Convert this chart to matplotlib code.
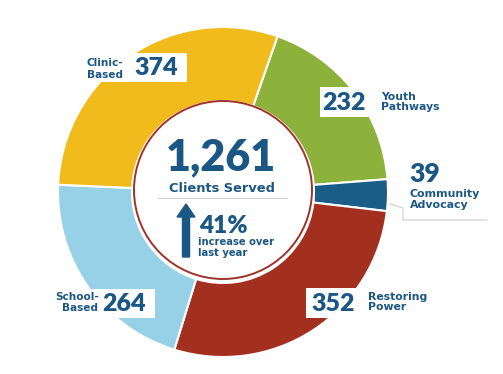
import matplotlib.pyplot as plt
from matplotlib.patches import Circle, Rectangle, FancyArrow

# clients by program, clockwise from the top
programs = ['Youth Pathways', 'Community Advocacy', 'Restoring Power',
            'School-Based', 'Clinic-Based']
clients = [232, 39, 352, 264, 374]
colors = ['#8cb23c', '#1a5e88', '#a3301f', '#96d1e7', '#f0bb1b']
total_label = '1,261'
increase_label = '41%'

navy = '#1b5784'
num_font = ['Lato', 'DejaVu Sans']
word_font = ['DejaVu Sans']

W, H = 503, 374
fig = plt.figure(figsize=(W / 100, H / 100), dpi=100)
ax = fig.add_axes([0, 0, 1, 1])

def Y(y):
    # picture rows run downward, data y runs upward
    return H - y

cx, cy = 223, Y(192)
ax.pie(clients, colors=colors, startangle=70.7, counterclock=False,
       center=(cx, cy), radius=165, frame=True,
       wedgeprops=dict(width=74, edgecolor='white', linewidth=1.5))
ax.set_xlim(0, W)
ax.set_ylim(0, H)
ax.set_aspect('equal')
ax.axis('off')

# centre disc with the red ring
ax.add_patch(Circle((cx, Y(190)), 89, facecolor='white', edgecolor='#a0322a',
                    linewidth=1.4, zorder=5))

def txt(x, y, s, size, ha='left', weight='bold', family=word_font):
    ax.text(x, Y(y), s, fontsize=size, ha=ha, va='baseline', color=navy,
            fontweight=weight, family=family, zorder=7)

def num(x, y, s, size, ha='left'):
    txt(x, y, s, size, ha=ha, weight='heavy', family=num_font)

def box(x0, y0, x1, y1):
    ax.add_patch(Rectangle((x0, Y(y1)), x1 - x0, y1 - y0, facecolor='white',
                           edgecolor='none', zorder=6))

# centre text
num(221, 170, total_label, 31, ha='center')
txt(222, 192, 'Clients Served', 9.4, ha='center')
ax.plot([158, 287], [Y(198), Y(198)], color='#cfcfcf', lw=0.8, zorder=7)
ax.add_patch(FancyArrow(186, Y(257), 0, 53, width=7, head_width=18,
                        head_length=13, length_includes_head=True,
                        color=navy, zorder=7))
num(199, 233, increase_label, 17.5)
txt(198, 245, 'increase over', 7.2)
txt(198, 256, 'last year', 7.2)

# Clinic-Based
box(83, 53, 187, 82)
txt(87, 66, 'Clinic-', 7.6)
txt(87, 78, 'Based', 7.6)
num(134, 75, str(clients[4]), 18)

# Youth Pathways
box(320, 87, 447, 117)
num(322, 110, str(clients[0]), 18)
txt(381, 100, 'Youth', 7.8)
txt(381, 110, 'Pathways', 7.8)

# Community Advocacy with its leader line
num(409, 182, str(clients[1]), 19)
txt(410, 197, 'Community', 7.9)
txt(410, 208, 'Advocacy', 7.9)
ax.plot([390, 403, 403, 487], [Y(204), Y(208), Y(220), Y(220)],
        color='#c8c8c8', lw=0.7, zorder=7)

# Restoring Power
box(306, 288, 430, 318)
num(311, 311, str(clients[2]), 18)
txt(368, 300, 'Restoring', 7.8)
txt(368, 310, 'Power', 7.8)

# School-Based
box(50, 289, 155, 318)
txt(99, 300, 'School-', 7.6, ha='right')
txt(98, 311, 'Based', 7.6, ha='right')
num(102, 311, str(clients[3]), 18)

fig.savefig('out.png', dpi=100, facecolor='white')
